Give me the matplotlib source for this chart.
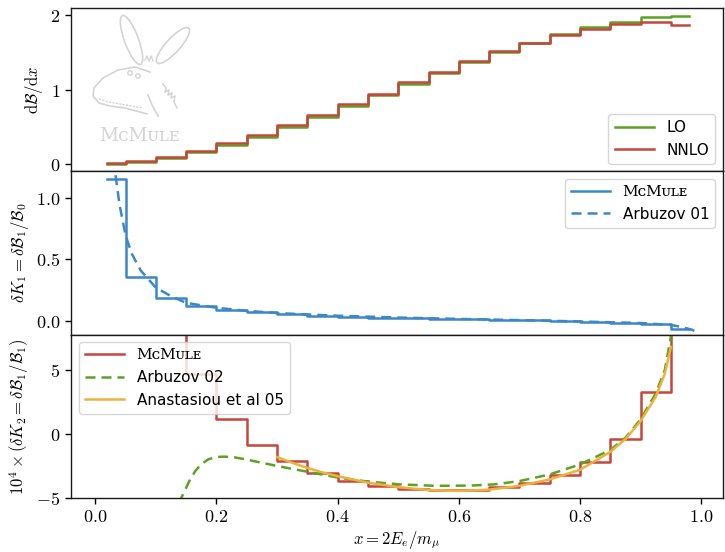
import numpy as np
import matplotlib
matplotlib.use("Agg")
import matplotlib.pyplot as plt
from matplotlib.patches import Ellipse, Circle
from matplotlib.ticker import FuncFormatter

plt.rcParams['mathtext.fontset'] = 'cm'
plt.rcParams['font.family'] = ['DejaVu Sans']

# ---------------- data ----------------
bin_edges = [0.02, 0.05, 0.10, 0.15, 0.20, 0.25, 0.30, 0.35, 0.40, 0.45, 0.50,
             0.55, 0.60, 0.65, 0.70, 0.75, 0.80, 0.85, 0.90, 0.95, 0.98]

lo_vals = [0.008, 0.033, 0.087, 0.163, 0.259, 0.371, 0.497, 0.633, 0.777, 0.925,
           1.075, 1.223, 1.367, 1.503, 1.629, 1.741, 1.837, 1.913, 1.967, 1.992]
nnlo_vals = [0.017, 0.045, 0.103, 0.182, 0.282, 0.396, 0.523, 0.659, 0.803, 0.948,
             1.098, 1.243, 1.383, 1.514, 1.632, 1.734, 1.815, 1.877, 1.900, 1.872]

dk1_mcmule = [1.16, 0.36, 0.186, 0.117, 0.087, 0.068, 0.052, 0.041, 0.033, 0.025,
              0.021, 0.016, 0.012, 0.007, 0.002, -0.004, -0.010, -0.017, -0.030, -0.065]
arb01_x = [0.030, 0.033, 0.040, 0.050, 0.060, 0.075, 0.100, 0.125, 0.150, 0.200,
           0.250, 0.300, 0.350, 0.400, 0.500, 0.600, 0.700, 0.800, 0.900, 0.950,
           0.970, 0.985, 0.993]
arb01_y = [1.45, 1.21, 0.95, 0.70, 0.55, 0.41, 0.27, 0.20, 0.145, 0.105,
           0.080, 0.062, 0.050, 0.040, 0.025, 0.014, 0.004, -0.007, -0.020, -0.035,
           -0.055, -0.075, -0.097]

dk2_mcmule = [60.0, 25.0, 12.0, 4.67, 1.14, -0.88, -2.10, -3.03, -3.70, -4.04,
              -4.30, -4.38, -4.38, -4.17, -3.84, -3.20, -2.20, -0.38, 3.26, 12.0]
arb02_x = [0.130, 0.142, 0.155, 0.165, 0.175, 0.187, 0.200, 0.213, 0.230, 0.250,
           0.300, 0.350, 0.400, 0.450, 0.500, 0.560, 0.620, 0.660, 0.700, 0.750,
           0.800, 0.850, 0.875, 0.900, 0.925, 0.940, 0.950, 0.955]
arb02_y = [-6.6, -5.0, -3.7, -2.9, -2.35, -1.97, -1.80, -1.77, -1.83, -2.00,
           -2.50, -2.95, -3.40, -3.72, -3.93, -4.05, -4.03, -3.93, -3.68, -3.16,
           -2.38, -1.25, -0.30, 1.14, 3.16, 5.00, 7.60, 9.0]
ana05_x = [0.300, 0.325, 0.350, 0.375, 0.400, 0.450, 0.500, 0.550, 0.600, 0.650,
           0.700, 0.750, 0.800, 0.850, 0.875, 0.900, 0.925, 0.940, 0.950]
ana05_y = [-1.80, -2.25, -2.65, -3.00, -3.30, -3.80, -4.15, -4.38, -4.45, -4.35,
           -4.05, -3.55, -2.80, -1.40, -0.40, 1.00, 2.90, 4.70, 6.80]

# ---------------- style ----------------
c_green = '#5ba321'
c_red = '#c4473a'
c_blue = '#3c88c6'
c_orange = '#f0b13c'
lw = 1.8
dash = (0, (4.0, 2.4))

fig, axes = plt.subplots(3, 1, sharex=True, figsize=(7.25, 5.52), dpi=100,
                         gridspec_kw=dict(hspace=0))
fig.subplots_adjust(left=71/725, right=723/725, top=1-8/552, bottom=1-498/552)
ax1, ax2, ax3 = axes

def stairs(ax, edges, vals, **kw):
    e = np.asarray(edges)
    v = np.asarray(vals)
    return ax.step(e, np.append(v, v[-1]), where='post', **kw)

def fmt_int(v, pos):
    return r'$%d$' % int(round(v))

def fmt_1(v, pos):
    return r'$%.1f$' % v

# top panel
stairs(ax1, bin_edges, lo_vals, color=c_green, lw=lw, label='LO')
stairs(ax1, bin_edges, nnlo_vals, color=c_red, lw=lw, label='NNLO')
ax1.set_ylim(-0.092, 2.094)
ax1.set_yticks([0, 1, 2])
ax1.yaxis.set_major_formatter(FuncFormatter(fmt_int))
ax1.set_ylabel(r'$\mathrm{d}\mathcal{B}/\mathrm{d}x$', fontsize=12)
ax1.legend(loc='lower right', fontsize=11, handlelength=2.6)

mcmule = 'M\u1d04M\u1d1c\u029f\u1d07'

# middle panel
stairs(ax2, bin_edges, dk1_mcmule, color=c_blue, lw=lw, label=mcmule)
ax2.plot(arb01_x, arb01_y, color=c_blue, lw=lw, ls=dash, label='Arbuzov 01')
ax2.set_ylim(-0.115, 1.221)
ax2.set_yticks([0.0, 0.5, 1.0])
ax2.yaxis.set_major_formatter(FuncFormatter(fmt_1))
ax2.set_ylabel(r'$\delta K_1 = \delta\mathcal{B}_1/\mathcal{B}_0$', fontsize=12)
leg2 = ax2.legend(loc='upper right', fontsize=11, handlelength=2.6)
leg2.get_texts()[0].set_fontfamily(['DejaVu Serif', 'DejaVu Sans'])

# bottom panel
stairs(ax3, bin_edges, dk2_mcmule, color=c_red, lw=lw, label=mcmule)
ax3.plot(arb02_x, arb02_y, color=c_green, lw=lw, ls=dash, label='Arbuzov 02')
ax3.plot(ana05_x, ana05_y, color=c_orange, lw=lw, label='Anastasiou et al 05')
ax3.set_ylim(-5, 7.75)
ax3.set_yticks([-5, 0, 5])
ax3.yaxis.set_major_formatter(FuncFormatter(fmt_int))
ax3.set_ylabel(r'$10^4 \times (\delta K_2 = \delta\mathcal{B}_1/\mathcal{B}_1)$', fontsize=12)
leg3 = ax3.legend(loc='upper left', fontsize=11, handlelength=2.6)
leg3.get_texts()[0].set_fontfamily(['DejaVu Serif', 'DejaVu Sans'])

ax3.set_xlim(-0.04, 1.036)
ax3.set_xticks([0.0, 0.2, 0.4, 0.6, 0.8, 1.0])
ax3.xaxis.set_major_formatter(FuncFormatter(fmt_1))
ax3.set_xlabel(r'$x = 2E_e/m_\mu$', fontsize=12, labelpad=2)

for ax in axes:
    ax.tick_params(labelsize=13, direction='out', length=4, width=1)
    for s in ax.spines.values():
        s.set_linewidth(1.0)
        s.set_color('#1a1a1a')

# ---------------- logo (decorative) ----------------
lg = fig.add_axes([85/725, 1-150/552, 115/725, 140/552], zorder=10)
lg.set_xlim(85, 200)
lg.set_ylim(150, 10)
lg.axis('off')
lg.patch.set_alpha(0)
gc = '#d4d4d4'
lg.add_patch(Ellipse((131.5, 40), 52, 14, angle=69.7, fill=False, ec=gc, lw=1.2))
lg.add_patch(Ellipse((173, 45.5), 47, 14, angle=132.3, fill=False, ec=gc, lw=1.2))
head_x = [150, 135, 118, 103, 94, 93, 99, 110, 125, 140, 147]
head_y = [72, 67, 70, 78, 88, 96, 103, 106, 108, 112, 114]
lg.plot(head_x, head_y, color=gc, lw=1.2)
lg.plot([99, 108, 120, 132, 143], [99, 102, 104, 106, 108], color=gc, lw=1.0, ls=(0, (1.5, 1)))
lg.add_patch(Circle((130, 73), 2.2, fill=False, ec=gc, lw=1.0))
lg.add_patch(Circle((138, 76), 2.2, fill=False, ec=gc, lw=1.0))
lg.plot([148, 152, 158], [95, 105, 116], color=gc, lw=1.2)
lg.plot([163, 166, 165, 169, 168, 172, 171, 175, 174, 177],
        [84, 88, 92, 90, 95, 93, 98, 96, 102, 108], color=gc, lw=1.1)
lg.plot([145, 147, 149, 151, 153], [60, 56, 61, 56, 61], color=gc, lw=1.0)
lg.text(139, 136, mcmule, ha='center', va='center', fontsize=13.5, color=gc,
        family=['DejaVu Serif', 'DejaVu Sans'])

fig.savefig('out.png', dpi=100)
